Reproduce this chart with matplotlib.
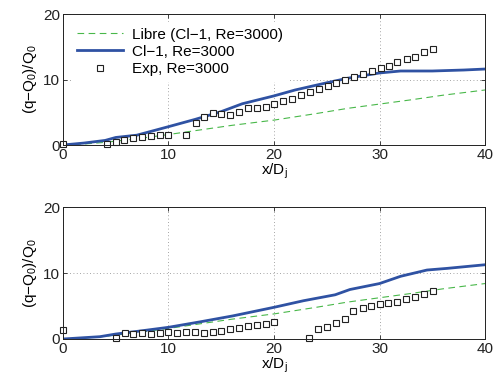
import matplotlib
matplotlib.use("Agg")
import matplotlib.pyplot as plt

plt.rcParams['font.family'] = ['Liberation Sans', 'DejaVu Sans']
plt.rcParams['mathtext.fontset'] = 'custom'
plt.rcParams['mathtext.rm'] = 'Liberation Sans'
plt.rcParams['mathtext.it'] = 'Liberation Sans'

# Free jet reference (same in both panels)
libre_x = [0, 2, 4, 5, 7, 10, 13, 16, 20, 24, 27, 30, 33, 36, 40]
libre_y = [0, 0.15, 0.4, 0.6, 0.95, 1.6, 2.3, 3.0, 3.8, 4.8, 5.6, 6.25, 6.9, 7.6, 8.4]

# Upper panel: CI-1 simulation and experiment
top_sim_x = [0, 2, 4, 5, 7, 10, 12.5, 15, 17, 20, 22, 25, 27, 30, 32, 35, 38, 40]
top_sim_y = [0, 0.3, 0.7, 1.15, 1.5, 2.8, 3.9, 5.1, 6.3, 7.5, 8.4, 9.5, 10.2, 11.0, 11.3, 11.3, 11.45, 11.6]
top_exp_x = [0, 4.2, 5.0, 5.8, 6.65, 7.5, 8.3, 9.2, 10.0, 11.7, 12.6, 13.35, 14.2, 15.0,
             15.8, 16.7, 17.5, 18.35, 19.2, 20.0, 20.9, 21.7, 22.6, 23.4, 24.3, 25.1,
             25.9, 26.7, 27.6, 28.4, 29.3, 30.1, 30.9, 31.7, 32.6, 33.4, 34.2, 35.1]
top_exp_y = [0.1, 0.15, 0.5, 0.75, 1.0, 1.2, 1.35, 1.5, 1.6, 1.5, 3.3, 4.2, 4.85, 4.7,
             4.6, 5.0, 5.6, 5.6, 5.85, 6.25, 6.7, 7.0, 7.6, 8.1, 8.55, 9.0,
             9.5, 9.9, 10.4, 10.8, 11.3, 11.7, 12.05, 12.6, 13.2, 13.5, 14.15, 14.65]

# Lower panel
bot_sim_x = [0, 3.5, 5, 7.6, 10, 13, 16.1, 20, 22.8, 25.8, 27.2, 30, 32, 34.5, 36.4, 40]
bot_sim_y = [0, 0.35, 0.75, 1.27, 1.77, 2.6, 3.5, 4.8, 5.8, 6.7, 7.5, 8.4, 9.5, 10.45, 10.7, 11.25]
bot_exp_x = [0, 5.0, 5.85, 6.65, 7.5, 8.3, 9.2, 10.0, 10.85, 11.7, 12.5, 13.35, 14.2, 15.0,
             15.8, 16.7, 17.5, 18.35, 19.2, 20.0, 23.35, 24.2, 25.05, 25.9, 26.7, 27.5,
             28.4, 29.2, 30.05, 30.85, 31.7, 32.5, 33.35, 34.2, 35.05]
bot_exp_y = [1.37, 0.1, 0.86, 0.76, 0.96, 0.7, 0.86, 1.1, 0.86, 1.1, 1.0, 0.96, 1.1, 1.27,
             1.5, 1.7, 2.0, 2.1, 2.3, 2.5, 0.1, 1.47, 1.77, 2.4, 3.1, 4.3,
             4.65, 5.06, 5.27, 5.4, 5.57, 6.0, 6.4, 6.8, 7.3]

x_ticks = [0, 10, 20, 30, 40]
y_ticks = [0, 10, 20]

BLUE = '#2f52a3'
GREEN = '#49b84a'
FS = 11

fig = plt.figure(figsize=(4.94, 3.83), dpi=100)
ax_top = fig.add_axes([0.1275, 0.6214, 0.8543, 0.3420])
ax_bot = fig.add_axes([0.1275, 0.1149, 0.8543, 0.3446])


def style(ax):
    ax.set_xlim(0, 40)
    ax.set_ylim(0, 20)
    ax.set_xticks(x_ticks)
    ax.set_yticks(y_ticks)
    ax.tick_params(direction='in', top=True, right=True, length=3, width=0.6,
                   labelsize=FS, pad=2, colors='#222222')
    ax.grid(True, linestyle=(0, (1, 3)), color='#888888', linewidth=0.6)
    for s in ax.spines.values():
        s.set_linewidth(0.7)
        s.set_color('#222222')
    ax.set_xlabel('x/D$_\\mathregular{j}$', fontsize=FS, labelpad=0)
    ax.set_ylabel('(q\u2212Q$_\\mathregular{0}$)/Q$_\\mathregular{0}$', fontsize=FS, labelpad=3)


for ax, sx, sy, ex, ey in [(ax_top, top_sim_x, top_sim_y, top_exp_x, top_exp_y),
                           (ax_bot, bot_sim_x, bot_sim_y, bot_exp_x, bot_exp_y)]:
    style(ax)
    ax.plot(libre_x, libre_y, linestyle=(0, (6, 4)), color=GREEN, linewidth=0.8,
            label='Libre (Cl\u22121, Re=3000)')
    ax.plot(sx, sy, color=BLUE, linewidth=2.0, label='Cl\u22121, Re=3000')
    ax.plot(ex, ey, linestyle='none', marker='s', markersize=4.6,
            markerfacecolor='white', markeredgecolor='#222222', markeredgewidth=0.8,
            label='Exp, Re=3000', clip_on=False)

leg = ax_top.legend(loc='upper left', fontsize=FS, frameon=True, framealpha=1,
                    facecolor='white', edgecolor='none', handlelength=3.0,
                    handletextpad=0.6, borderpad=0.4, labelspacing=0.2,
                    borderaxespad=0.5, fancybox=False)

fig.savefig('out.png', dpi=100)
